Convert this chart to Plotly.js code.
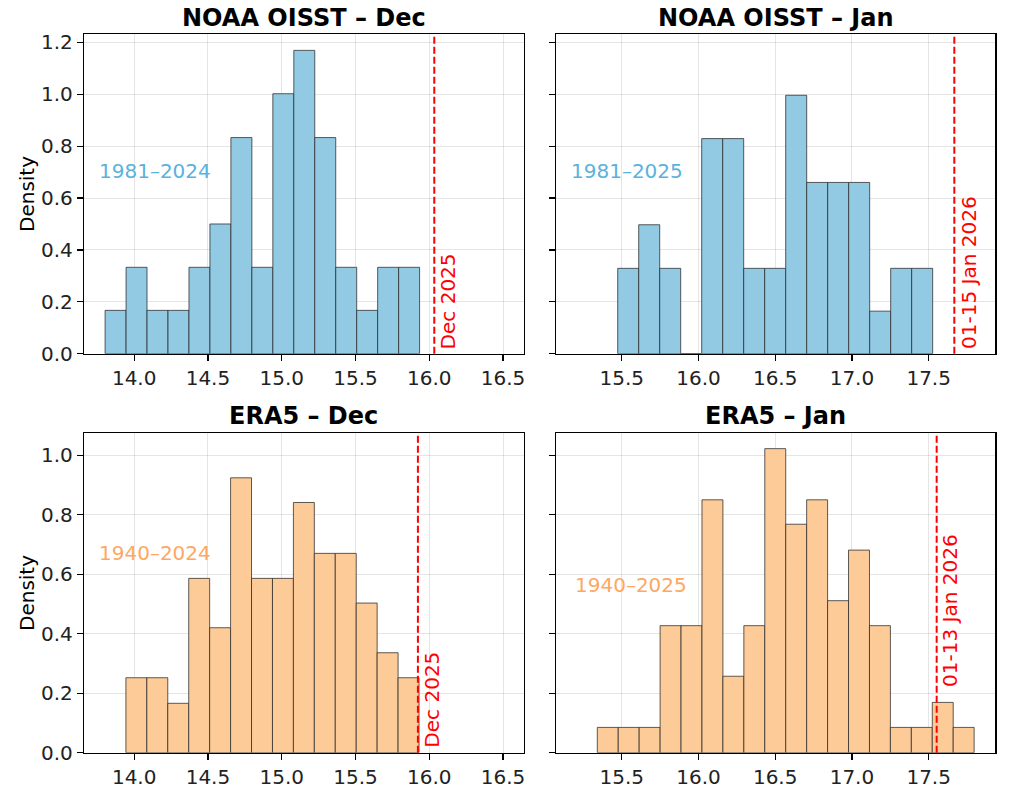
<!DOCTYPE html>
<html>
<head>
<meta charset="utf-8">
<script src="https://cdn.plot.ly/plotly-3.0.1.min.js"></script>
<style>
  html, body { margin: 0; padding: 0; background: #ffffff; }
  #chart { width: 1024px; height: 793px; }
</style>
</head>
<body>
<div id="chart"></div>
<script>
// ---- Data (density histograms) ----
const panelTitles = ["NOAA OISST – Dec", "NOAA OISST – Jan", "ERA5 – Dec", "ERA5 – Jan"];
const periodLabels = ["1981–2024", "1981–2025", "1940–2024", "1940–2025"];
const currentLabels = ["Dec 2025", "01-15 Jan 2026", "Dec 2025", "01-13 Jan 2026"];
const currentValues = [16.034, 17.667, 15.923, 17.552];

const noaaDecBinStart = 13.803;
const noaaDecBinWidth = 0.1421;
const noaaDecDensity = [0.167, 0.333, 0.167, 0.167, 0.333, 0.500, 0.833, 0.333, 1.002, 1.169, 0.833, 0.333, 0.167, 0.333, 0.333];

const noaaJanBinStart = 15.474;
const noaaJanBinWidth = 0.1368;
const noaaJanDensity = [0.329, 0.497, 0.329, 0, 0.829, 0.829, 0.329, 0.329, 0.996, 0.660, 0.660, 0.660, 0.164, 0.329, 0.329];

const era5DecBinStart = 13.944;
const era5DecBinWidth = 0.1419;
const era5DecDensity = [0.252, 0.252, 0.166, 0.586, 0.420, 0.924, 0.586, 0.586, 0.841, 0.670, 0.670, 0.503, 0.336, 0.252];

const era5JanBinStart = 15.341;
const era5JanBinWidth = 0.1364;
const era5JanDensity = [0.085, 0.085, 0.085, 0.427, 0.427, 0.850, 0.257, 0.427, 1.022, 0.768, 0.850, 0.511, 0.681, 0.427, 0.085, 0.085, 0.169, 0.085];

const xTickDec = [14.0, 14.5, 15.0, 15.5, 16.0, 16.5];
const xTickJan = [15.5, 16.0, 16.5, 17.0, 17.5];
const yTickTop = [0.0, 0.2, 0.4, 0.6, 0.8, 1.0, 1.2];
const yTickBottom = [0.0, 0.2, 0.4, 0.6, 0.8, 1.0];

// ---- Styling ----
const blueFill = "#92CAE3";
const orangeFill = "#FDCB98";
const blueText = "#5AB2DE";
const orangeText = "#FDA862";
const edge = "rgba(40,40,40,0.75)";
const FONT = "DejaVu Sans, sans-serif";

const histos = [
  {start: noaaDecBinStart, width: noaaDecBinWidth, dens: noaaDecDensity, fill: blueFill, txt: blueText, xa: "x", ya: "y"},
  {start: noaaJanBinStart, width: noaaJanBinWidth, dens: noaaJanDensity, fill: blueFill, txt: blueText, xa: "x2", ya: "y2"},
  {start: era5DecBinStart, width: era5DecBinWidth, dens: era5DecDensity, fill: orangeFill, txt: orangeText, xa: "x3", ya: "y3"},
  {start: era5JanBinStart, width: era5JanBinWidth, dens: era5JanDensity, fill: orangeFill, txt: orangeText, xa: "x4", ya: "y4"}
];

const traces = histos.map(h => ({
  type: "bar",
  x: h.dens.map((_, i) => h.start + (i + 0.5) * h.width),
  y: h.dens,
  width: h.width,
  marker: {color: h.fill, line: {color: edge, width: 1}},
  xaxis: h.xa, yaxis: h.ya,
  hoverinfo: "x+y",
  showlegend: false
}));

function xAxis(range, ticks, domain, anchor) {
  return {
    domain: domain, range: range, anchor: anchor,
    tickmode: "array", tickvals: ticks, ticktext: ticks.map(v => v.toFixed(1)),
    ticks: "outside", ticklen: 6, tickwidth: 1.2, tickcolor: "#000",
    showgrid: true, gridcolor: "rgba(0,0,0,0.1)", gridwidth: 1,
    showline: true, linecolor: "#000", linewidth: 1.2, mirror: true,
    zeroline: false,
    tickfont: {family: FONT, size: 20, color: "#222"}
  };
}
function yAxis(range, ticks, domain, anchor, showLabels) {
  return {
    domain: domain, range: range, anchor: anchor,
    tickmode: "array", tickvals: ticks, ticktext: ticks.map(v => v.toFixed(1)),
    showticklabels: showLabels,
    ticks: "outside", ticklen: 6, tickwidth: 1.2, tickcolor: "#000",
    showgrid: true, gridcolor: "rgba(0,0,0,0.1)", gridwidth: 1,
    showline: true, linecolor: "#000", linewidth: 1.2, mirror: true,
    zeroline: false,
    tickfont: {family: FONT, size: 20, color: "#222"}
  };
}

const xDomL = [84 / 1024, 523.7 / 1024];
const xDomR = [555.7 / 1024, 995.3 / 1024];
const yDomT = [(793 - 353.7) / 793, (793 - 34.3) / 793];
const yDomB = [(793 - 752.7) / 793, (793 - 433.3) / 793];

const rangeDec = [13.66, 16.64];
const rangeJan = [15.07, 17.934];
const rangeYTop = [0, 1.231];
const rangeYBot = [0, 1.0736];

const annotations = [];
const shapes = [];
const titleY = [(793 - 18) / 793, (793 - 18) / 793, (793 - 416) / 793, (793 - 416) / 793];
const titleX = [(xDomL[0] + xDomL[1]) / 2, (xDomR[0] + xDomR[1]) / 2, (xDomL[0] + xDomL[1]) / 2, (xDomR[0] + xDomR[1]) / 2];
const periodPos = [[0.030, 0.573], [0.030, 0.573], [0.030, 0.626], [0.039, 0.526]];
const curLabelY = [0.010, 0.010, 0.010, 0.215];

histos.forEach((h, i) => {
  annotations.push({
    xref: "paper", yref: "paper", x: titleX[i], y: titleY[i],
    xanchor: "center", yanchor: "middle", showarrow: false,
    text: "<b>" + panelTitles[i] + "</b>",
    font: {family: FONT, size: 24, color: "#000"}
  });
  annotations.push({
    xref: h.xa + " domain", yref: h.ya + " domain",
    x: periodPos[i][0], y: periodPos[i][1],
    xanchor: "left", yanchor: "middle", showarrow: false,
    text: periodLabels[i],
    font: {family: FONT, size: 20, color: h.txt}
  });
  annotations.push({
    xref: h.xa, yref: h.ya, x: currentValues[i], y: curLabelY[i],
    xanchor: "left", yanchor: "bottom", showarrow: false, xshift: 0,
    textangle: -90, text: currentLabels[i],
    font: {family: FONT, size: 20, color: "#FF0000"}
  });
  shapes.push({
    type: "line", xref: h.xa, yref: h.ya + " domain",
    x0: currentValues[i], x1: currentValues[i], y0: 0, y1: 1,
    line: {color: "#FF0000", width: 2, dash: "7px,3px"}
  });
});

annotations.push({
  xref: "paper", yref: "paper", x: 27 / 1024, y: (yDomT[0] + yDomT[1]) / 2,
  xanchor: "center", yanchor: "middle", showarrow: false, textangle: -90,
  text: "Density", font: {family: FONT, size: 20, color: "#000"}
});
annotations.push({
  xref: "paper", yref: "paper", x: 27 / 1024, y: (yDomB[0] + yDomB[1]) / 2,
  xanchor: "center", yanchor: "middle", showarrow: false, textangle: -90,
  text: "Density", font: {family: FONT, size: 20, color: "#000"}
});

const layout = {
  width: 1024, height: 793,
  margin: {l: 0, r: 0, t: 0, b: 0},
  paper_bgcolor: "#ffffff", plot_bgcolor: "#ffffff",
  bargap: 0,
  font: {family: FONT},
  xaxis: xAxis(rangeDec, xTickDec, xDomL, "y"),
  yaxis: yAxis(rangeYTop, yTickTop, yDomT, "x", true),
  xaxis2: xAxis(rangeJan, xTickJan, xDomR, "y2"),
  yaxis2: yAxis(rangeYTop, yTickTop, yDomT, "x2", false),
  xaxis3: xAxis(rangeDec, xTickDec, xDomL, "y3"),
  yaxis3: yAxis(rangeYBot, yTickBottom, yDomB, "x3", true),
  xaxis4: xAxis(rangeJan, xTickJan, xDomR, "y4"),
  yaxis4: yAxis(rangeYBot, yTickBottom, yDomB, "x4", false),
  annotations: annotations,
  shapes: shapes
};

Plotly.newPlot("chart", traces, layout, {displayModeBar: false, staticPlot: true});
</script>
</body>
</html>
